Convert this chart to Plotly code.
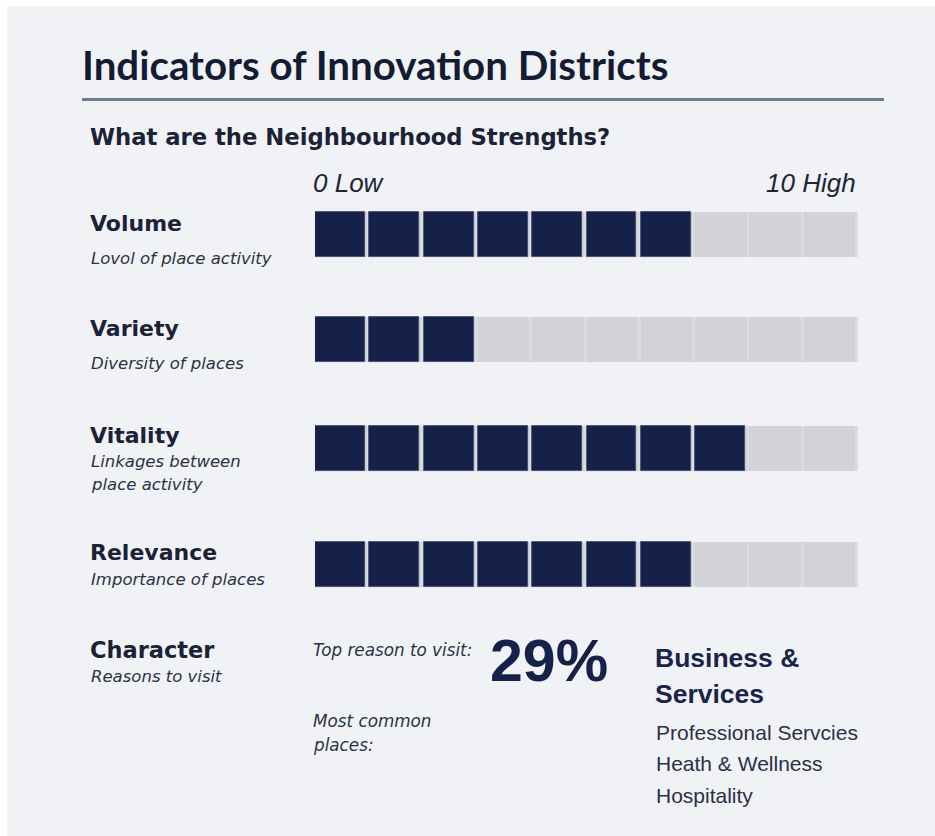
import plotly.graph_objects as go

W, H = 935, 836

# ---- data ----
indicators = ["Volume", "Variety", "Vitality", "Relevance"]
descriptions = [["Lovol of place activity"], ["Diversity of places"],
                ["Linkages between", "place activity"], ["Importance of places"]]
scores = [7, 3, 8, 7]
scale_max = 10
scale_labels = ["0 Low", "10 High"]

top_reason_share = "29%"
top_reason = ["Business &", "Services"]
common_places = ["Professional Servcies", "Heath & Wellness", "Hospitality"]

# ---- layout helpers (pixel positions in the page) ----
row_centers = [234.5, 339.5, 448, 564]
row_label_y = [223, 328, 435, 552]
row_desc_y = [[258], [363], [461, 484], [579]]
bar_h = 45

NAVY = "#16214a"
GRAY = "#d2d3d7"
SEP = "#dbdce0"
TXT = "#1b2236"
SUB = "#2a3244"
BG = "#f1f2f6"

def px(x):
    return x / W

def py(y):
    return 1 - y / H

fig = go.Figure()

for r, (name, val) in enumerate(zip(indicators, scores)):
    yc = row_centers[r]
    fig.add_trace(go.Bar(orientation="h", y=[yc], x=[scale_max], base=[0], width=bar_h,
                         marker=dict(color=SEP, line=dict(width=0)), hoverinfo="skip"))
    fig.add_trace(go.Bar(orientation="h", y=[yc] * scale_max, x=[0.95] * scale_max,
                         base=list(range(scale_max)), width=bar_h,
                         marker=dict(color=GRAY, line=dict(width=0)), hoverinfo="skip"))
    fig.add_trace(go.Bar(orientation="h", y=[yc] * val, x=[0.92] * val,
                         base=list(range(val)), width=bar_h,
                         marker=dict(color=NAVY, line=dict(color="#3e4872", width=0.8)),
                         name=name, hovertemplate=name + ": %{base}<extra></extra>"))

ann = []
def text(x, y, s, size, family="Liberation Sans", color=TXT, weight="normal",
         style="normal", xanchor="left"):
    ann.append(dict(x=px(x), y=py(y), xref="paper", yref="paper", text=s,
                    showarrow=False, xanchor=xanchor, yanchor="middle", align="left",
                    font=dict(size=size, family=family, color=color, weight=weight, style=style)))

HEAD = "DejaVu Sans"
ITAL = "DejaVu Sans"

text(80, 65, "Indicators of Innovation Districts", 40.3, family="Lato", weight="bold", color="#141c33")
text(88, 137, "What are the Neighbourhood Strengths?", 22.7, family=HEAD, weight="bold", color=TXT)
text(311, 183, scale_labels[0], 26, family="Liberation Sans", style="italic", color="#1e2638")
text(858, 183, scale_labels[1], 26, family="Liberation Sans", style="italic", color="#1e2638",
     xanchor="right")

for r in range(len(indicators)):
    text(88, row_label_y[r], indicators[r], 22, family=HEAD, weight="bold", color=TXT)
    for line, yy in zip(descriptions[r], row_desc_y[r]):
        text(89, yy, line, 16.5, family=ITAL, style="italic", color=SUB)

text(88, 650, "Character", 22.5, family=HEAD, weight="bold", color=TXT)
text(89, 676, "Reasons to visit", 16.5, family=ITAL, style="italic", color=SUB)
text(311, 650, "Top reason to visit:", 16.8, family=ITAL, style="italic", color=SUB)
text(311, 721, "Most common", 16.8, family=ITAL, style="italic", color=SUB)
text(311, 745, "places:", 16.8, family=ITAL, style="italic", color=SUB)
text(488, 661, top_reason_share, 59, weight="bold", color="#16214a")
text(653, 658, top_reason[0], 26.5, weight="bold", color="#1a2448")
text(653, 694, top_reason[1], 26.5, weight="bold", color="#1a2448")
for i, p in enumerate(common_places):
    text(654, 732 + i * 31.5, p, 21, color="#2a3046")

fig.update_layout(
    width=W, height=H, margin=dict(l=0, r=0, t=0, b=0),
    paper_bgcolor="white", plot_bgcolor="rgba(0,0,0,0)",
    barmode="overlay", showlegend=False, bargap=0,
    xaxis=dict(range=[0, scale_max], domain=[px(315), px(858)], visible=False, fixedrange=True),
    yaxis=dict(range=[H, 0], domain=[0, 1], visible=False, fixedrange=True),
    shapes=[
        dict(type="rect", xref="paper", yref="paper", x0=px(7), x1=1, y0=0, y1=py(6),
             fillcolor=BG, line=dict(width=0), layer="below"),
        dict(type="line", xref="paper", yref="paper", x0=px(82), x1=px(884), y0=py(99.5), y1=py(99.5),
             line=dict(color="#6f7c90", width=3)),
    ],
    annotations=ann,
)

fig.write_html("out.html", config={"displayModeBar": False},
               post_script="document.body.style.margin='0';"
                           "document.documentElement.style.overflow='hidden';")
